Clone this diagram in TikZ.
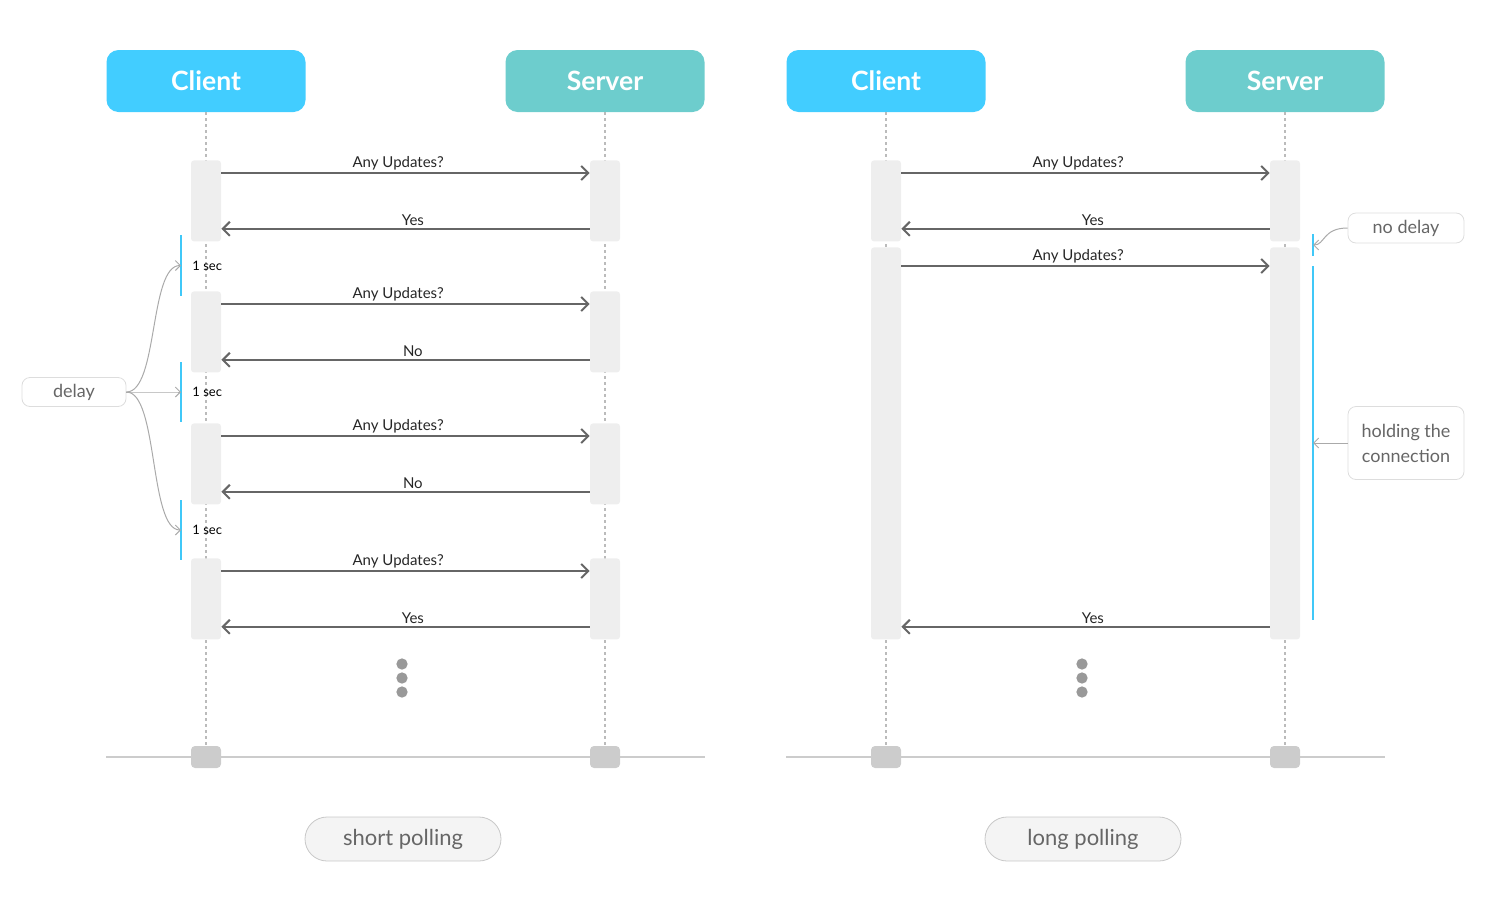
\documentclass[tikz,border=0pt]{standalone}
\usepackage{fontspec}
\setmainfont{Lato}
\usepackage{xcolor}
\usepackage{tikz}
\usetikzlibrary{arrows.meta,positioning}
\definecolor{clientblue}{HTML}{42CDFF}
\definecolor{serverteal}{HTML}{6DCDCD}
\definecolor{barbg}{HTML}{EEEEEE}
\definecolor{endgray}{HTML}{CCCCCC}
\definecolor{msggray}{HTML}{666666}
\definecolor{lifegray}{HTML}{BBBBBB}
\definecolor{gapblue}{HTML}{40C8F8}
\definecolor{notegray}{HTML}{DDDDDD}
\definecolor{notetext}{HTML}{666666}
\definecolor{pointgray}{HTML}{AAAAAA}
\definecolor{tagbg}{HTML}{F4F4F4}
\definecolor{taggray}{HTML}{C8C8C8}
\definecolor{dotgray}{HTML}{999999}
\tikzset{
    Head/.style = {rounded corners=6pt,minimum width=99.5pt,minimum height=31pt,
                   text=white,font=\bfseries\fontsize{13.3}{16}\selectfont},
    Bar/.style = {fill=barbg,rounded corners=1.5pt,minimum width=15pt,anchor=north,inner sep=0pt},
    End/.style = {fill=endgray,rounded corners=2pt,minimum width=15pt,minimum height=11pt,inner sep=0pt},
    Base/.style = {draw=endgray,line width=0.8pt},
    Life/.style = {draw=lifegray,line width=0.6pt,dash pattern=on 1.5pt off 1.5pt},
    Msg/.style = {draw=msggray,line width=1pt,-{Straight Barb[length=3.5pt,width=7pt]}},
    MsgText/.style = {font=\fontsize{7.5}{9}\selectfont,inner sep=1pt,above,text=black!85,pos=0.48},
    Gap/.style = {draw=gapblue,line width=1pt},
    SecText/.style = {font=\fontsize{6.5}{8}\selectfont,inner sep=0pt,anchor=west},
    Note/.style = {draw=notegray,rounded corners=4pt,text=notetext,
                   font=\fontsize{9}{12.5}\selectfont,align=center,inner sep=0pt},
    Pointer/.style = {draw=pointgray,line width=0.5pt,-{Straight Barb[length=2.5pt,width=5pt]}},
    Tag/.style = {draw=taggray,fill=tagbg,rounded corners=11pt,minimum width=98pt,minimum height=22pt,
                  text=notetext,font=\fontsize{11}{13}\selectfont},
    Dot/.style = {fill=dotgray,circle,inner sep=2pt}
}
\begin{document}
\begin{tikzpicture}[x=0.5pt,y=-0.5pt]
    \useasboundingbox (0,0) rectangle (1500,900);
    % short polling
    \node[Head,fill=clientblue] (cA) at (206,81) {Client};
    \node[Head,fill=serverteal] (sA) at (605,81) {Server};
    \draw[Base] (cA.west |- 0,757) -- (sA.east |- 0,757);
    \node[End] (cAe) at (206,757) {};
    \node[End] (sAe) at (605,757) {};
    \draw[Life] (cA.south) -- (cAe.north);
    \draw[Life] (sA.south) -- (sAe.north);
    \foreach \i/\t/\r in {1/160/Yes,2/291/No,3/423/No,4/558/Yes}
        {\node[Bar,minimum height=40.5pt] (cA\i) at (206,\t) {};
         \node[Bar,minimum height=40.5pt] (sA\i) at (605,\t) {};
         \draw[Msg] ([yshift=-6.5pt]cA\i.north east) -- node[MsgText] {Any Updates?} ([yshift=-6.5pt]sA\i.north west);
         \draw[Msg] ([yshift=6.5pt]sA\i.south west) -- node[MsgText] {\r} ([yshift=6.5pt]cA\i.south east);}
    \foreach \i/\a/\b in {1/235/296,2/362/422,3/500/560}
        {\draw[Gap] (181,\a) -- coordinate (d\i) (181,\b);
         \node[SecText] (sec\i) at ([xshift=5.5pt]d\i) {1 sec};}
    \node[Note,minimum width=52pt,minimum height=14.5pt] (delay) at (74,392) {delay};
    \foreach \i in {1,2,3}
        {\draw[Pointer] (delay.east) .. controls +(32,0) and +(-32,0) .. (d\i);}
    \foreach \y in {664,678,692}
        {\node[Dot] at (402,\y) {};}
    \node[Tag] (tA) at (403,839) {short polling};
    % long polling
    \node[Head,fill=clientblue] (cB) at (886,81) {Client};
    \node[Head,fill=serverteal] (sB) at (1285,81) {Server};
    \draw[Base] (cB.west |- 0,757) -- (sB.east |- 0,757);
    \node[End] (cBe) at (886,757) {};
    \node[End] (sBe) at (1285,757) {};
    \draw[Life] (cB.south) -- (cBe.north);
    \draw[Life] (sB.south) -- (sBe.north);
    \node[Bar,minimum height=40.5pt] (cB1) at (886,160) {};
    \node[Bar,minimum height=40.5pt] (sB1) at (1285,160) {};
    \node[Bar,minimum height=196pt] (cB2) at (886,247) {};
    \node[Bar,minimum height=196pt] (sB2) at (1285,247) {};
    \draw[Msg] ([yshift=-6.5pt]cB1.north east) -- node[MsgText] {Any Updates?} ([yshift=-6.5pt]sB1.north west);
    \draw[Msg] ([yshift=6.5pt]sB1.south west) -- node[MsgText] {Yes} ([yshift=6.5pt]cB1.south east);
    \draw[Msg] ([yshift=-9.5pt]cB2.north east) -- node[MsgText] {Any Updates?} ([yshift=-9.5pt]sB2.north west);
    \draw[Msg] ([yshift=6.5pt]sB2.south west) -- node[MsgText] {Yes} ([yshift=6.5pt]cB2.south east);
    \draw[Gap] (1313,234) -- coordinate (n1) (1313,256);
    \draw[Gap] (1313,266) -- coordinate (h1) (1313,620);
    \node[Note,minimum width=58pt,minimum height=15pt] (nodelay) at (1406,228) {no delay};
    \node[Note,minimum width=58pt,minimum height=36.5pt] (holding) at (1406,443) {holding the\\connection};
    \draw[Pointer] (nodelay.west) .. controls +(-25,0) and +(12,0) .. (n1);
    \draw[Pointer] (holding.west) -- (h1);
    \foreach \y in {664,678,692}
        {\node[Dot] at (1082,\y) {};}
    \node[Tag] (tB) at (1083,839) {long polling};
\end{tikzpicture}
\end{document}
